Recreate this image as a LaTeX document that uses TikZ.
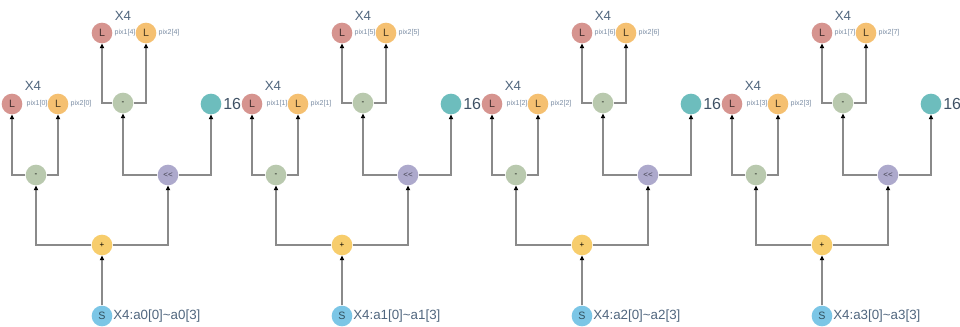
\documentclass[tikz,border=0pt]{standalone}
\usepackage{fontspec}
\setmainfont{Liberation Sans}
\usetikzlibrary{arrows.meta}
\definecolor{cLred}{HTML}{D6948F}
\definecolor{cLor}{HTML}{F5C071}
\definecolor{cMinus}{HTML}{B9C9AE}
\definecolor{cShift}{HTML}{ADA9CC}
\definecolor{cPlus}{HTML}{F7CD6C}
\definecolor{cTeal}{HTML}{6DBDBD}
\definecolor{cS}{HTML}{7CC6E6}
\definecolor{cText}{HTML}{50667E}
\definecolor{cPix}{HTML}{7A8CA3}
\definecolor{cLine}{HTML}{8A8A8A}
\begin{document}
\begin{tikzpicture}[x=0.75pt,y=-0.75pt,
  dot/.style={circle,inner sep=0pt,minimum size=15.5pt,font=\fontsize{6}{7}\selectfont},
  ldot/.style={dot,minimum size=15.5pt,font=\fontsize{8}{9}\selectfont,text=black!70!cLred},
  pixlbl/.style={inner sep=0pt,text=cPix,font=\fontsize{5.3}{6}\selectfont},
  xlbl/.style={inner sep=0pt,text=cText,font=\fontsize{10}{12}\selectfont},
  numlbl/.style={inner sep=0pt,text=cText!80!black,font=\fontsize{12}{14}\selectfont},
  conn/.style={draw=cLine,line width=0.8pt,-{Triangle[width=3.2pt,length=3.4pt,color=black]}}]
\useasboundingbox (0,0) rectangle (960,326);
\foreach \i/\k/\m in {0/0/4,1/1/5,2/2/6,3/3/7}{
  \pgfmathsetmacro{\ox}{240*\i}
  % top group
  \node[xlbl] (xt\i) at (\ox+123,16) {X4};
  \node[ldot,fill=cLred] (lrt\i) at (\ox+102,33) {L};
  \node[ldot,fill=cLor,text=black!70!cLor] (lot\i) at (\ox+146,33) {L};
  \node[pixlbl] (p1t\i) at (\ox+125,33) {pix1[\m]};
  \node[pixlbl] (p2t\i) at (\ox+169,33) {pix2[\m]};
  % left group
  \node[xlbl] (xl\i) at (\ox+33,86) {X4};
  \node[ldot,fill=cLred] (lrl\i) at (\ox+12,104) {L};
  \node[ldot,fill=cLor,text=black!70!cLor] (lol\i) at (\ox+58,104) {L};
  \node[pixlbl] (p1l\i) at (\ox+37,104) {pix1[\k]};
  \node[pixlbl] (p2l\i) at (\ox+81,104) {pix2[\k]};
  % others
  \node[dot,fill=cMinus] (mt\i) at (\ox+123,103) {-};
  \node[dot,fill=cTeal] (tl\i) at (\ox+211,104) {};
  \node[numlbl,anchor=west] (n\i) at (\ox+223,104) {16};
  \node[dot,fill=cMinus] (ml\i) at (\ox+36,175) {-};
  \node[dot,fill=cShift,text=black!60!cShift] (sh\i) at (\ox+168,175) {{<}{<}};
  \node[dot,fill=cPlus] (pl\i) at (\ox+102,245) {+};
  \node[dot,fill=cS,text=black!60!cS,font=\fontsize{8}{9}\selectfont] (s\i) at (\ox+102,316) {S};
  \node[xlbl,anchor=west] (sl\i) at (\ox+113,316) {X4:a\k[0]\textasciitilde a\k[3]};
  % connectors
  \draw[conn] (s\i) -- (pl\i);
  \draw[conn] (pl\i.west) -| (ml\i.south);
  \draw[conn] (pl\i.east) -| (sh\i.south);
  \draw[conn] (ml\i.west) -| (lrl\i.south);
  \draw[conn] (ml\i.east) -| (lol\i.south);
  \draw[conn] (sh\i.west) -| (mt\i.south);
  \draw[conn] (sh\i.east) -| (tl\i.south);
  \draw[conn] (mt\i.west) -| (lrt\i.south);
  \draw[conn] (mt\i.east) -| (lot\i.south);
}
\end{tikzpicture}
\end{document}
